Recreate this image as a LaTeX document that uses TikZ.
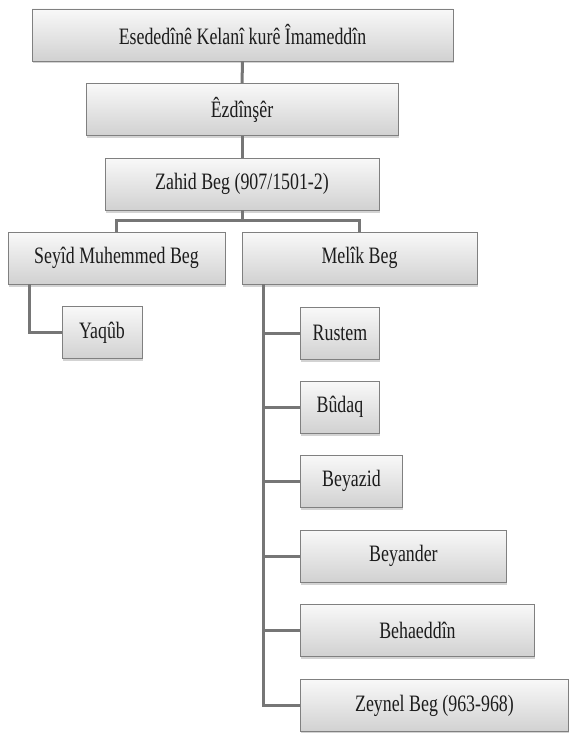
\documentclass[tikz,border=0pt]{standalone}
\usepackage{fontspec}
\setmainfont{Liberation Serif}[FakeStretch=0.76]
\usetikzlibrary{shadows}
\definecolor{boxedge}{RGB}{128,128,128}
\definecolor{linkgray}{RGB}{118,118,118}
\definecolor{inkgray}{RGB}{28,28,28}

\begin{document}
\begin{tikzpicture}[x=1pt,y=-1pt,
                    member/.style={draw=boxedge,line width=0.9pt,top color=gray!5,bottom color=gray!36,
                        drop shadow={shadow xshift=1pt,shadow yshift=-2.5pt,opacity=0.35},
                        minimum height=52pt,inner sep=0pt,text=inkgray,
                        font=\fontsize{23.5}{27}\selectfont},
                    link/.style={draw=linkgray,line width=3pt}]
                    \useasboundingbox (0,0) rectangle (569,733);
                    \node[member,minimum width=421pt] (esed) at (242.5,35) {Esededînê Kelanî kurê Îmameddîn};
                    \node[member,minimum width=312pt] (ezdin) at (242,109.5) {Êzdînşêr};
                    \node[member,minimum width=274pt] (zahid) at (242,184) {Zahid Beg (907/1501-2)};
                    \node[member,minimum width=217pt] (seyid) at (116.5,258) {Seyîd Muhemmed Beg};
                    \node[member,minimum width=235pt] (melik) at (359.5,258) {Melîk Beg};
                    \node[member,minimum width=80pt] (yaqub) at (102,332.5) {Yaqûb};
                    \node[member,minimum width=79pt,anchor=west] (rustem) at (300,333) {Rustem};
                    \node[member,minimum width=79pt,anchor=west] (budaq) at (300,407) {Bûdaq};
                    \node[member,minimum width=102pt,anchor=west] (beyazid) at (300,481) {Beyazid};
                    \node[member,minimum width=206pt,anchor=west] (beyander) at (300,556) {Beyander};
                    \node[member,minimum width=234pt,anchor=west] (behaeddin) at (300,630) {Behaeddîn};
                    \node[member,minimum width=268pt,anchor=west] (zeynel) at (300,705.5) {Zeynel Beg (963-968)};
                    \coordinate (fork) at (242,220);
                    \coordinate (seyidbus) at ([xshift=22pt]seyid.south west);
                    \coordinate (melikbus) at ([xshift=22pt]melik.south west);
                    \draw[link] (esed) -- (ezdin);
                    \draw[link] (ezdin) -- (zahid);
                    \draw[link] (zahid) -- (fork);
                    \draw[link] (seyid.north) |- (fork) -| (melik.north);
                    \draw[link] (seyidbus) |- (yaqub.west);
                    \draw[link] (melikbus) |- (zeynel.west);
                    \foreach \kid in {rustem,budaq,beyazid,beyander,behaeddin}
                        \draw[link] (\kid.west) -- (\kid.west -| melikbus);
                \end{tikzpicture}
\end{document}
